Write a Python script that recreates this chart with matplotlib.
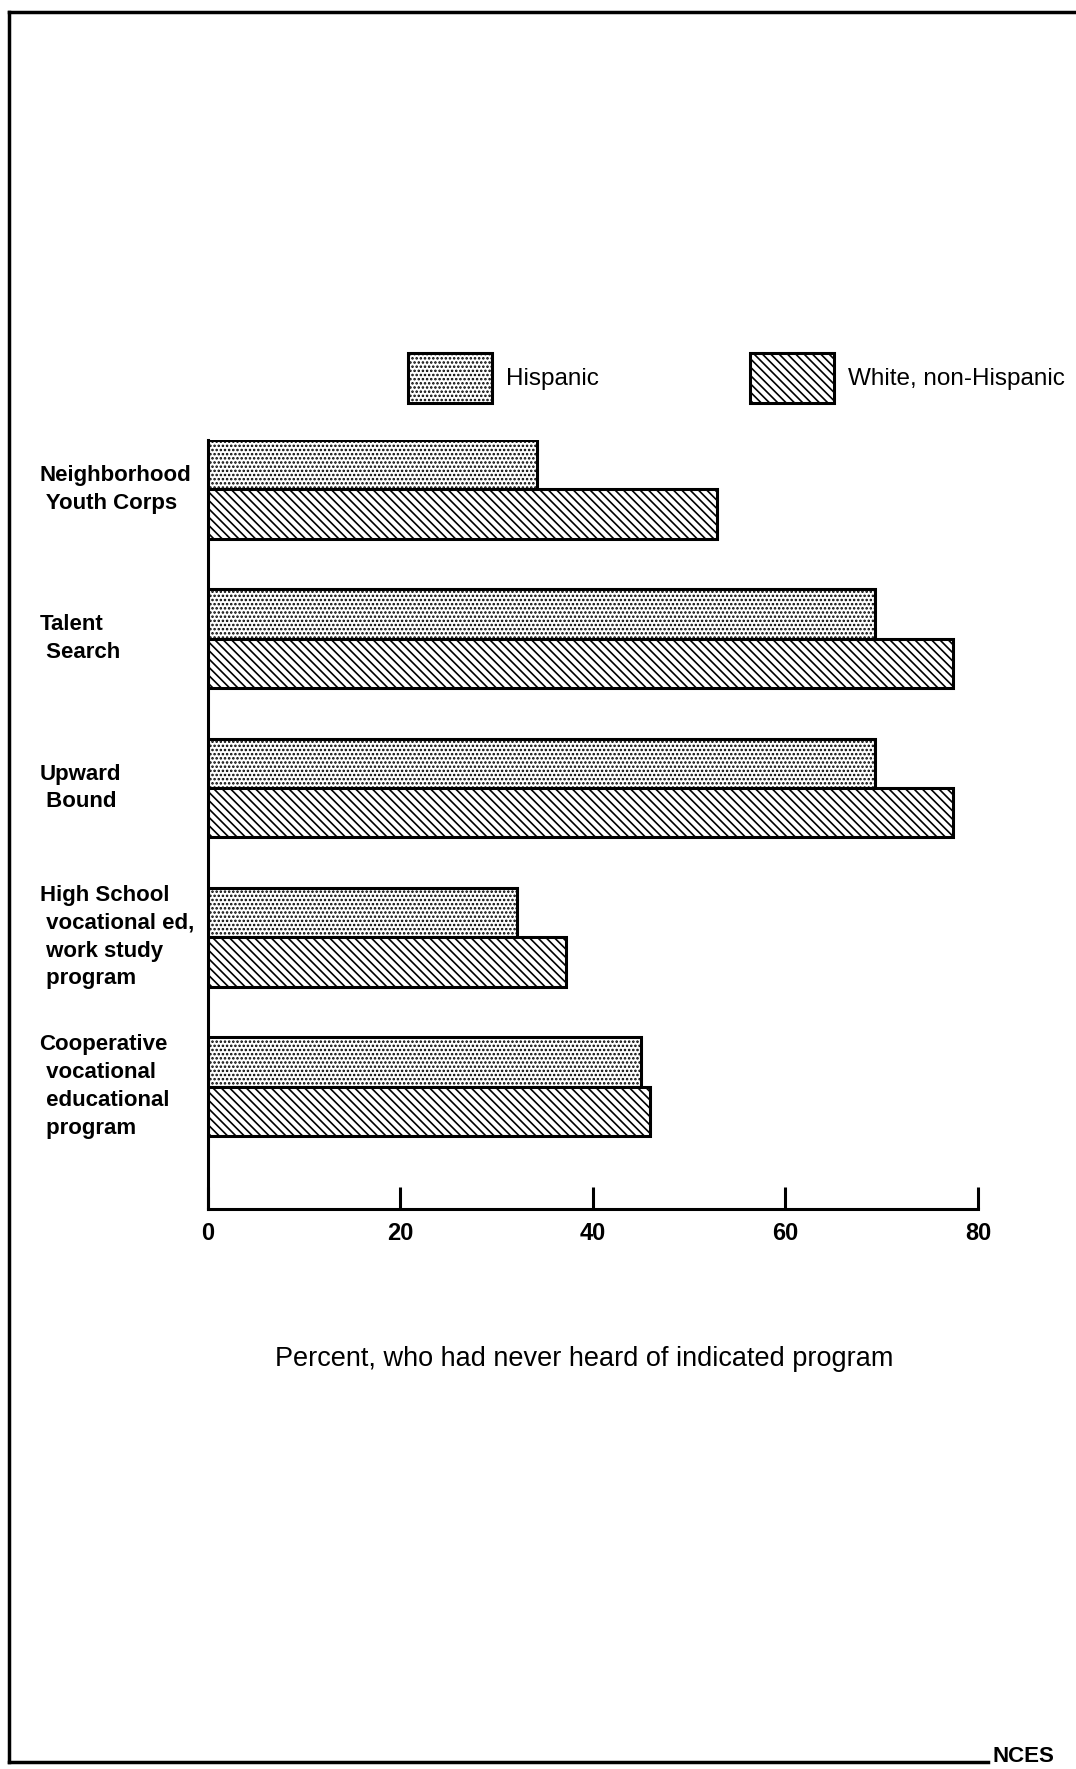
import matplotlib
matplotlib.use("Agg")
import matplotlib.pyplot as plt
import numpy as np
from matplotlib.lines import Line2D
from matplotlib.transforms import blended_transform_factory

categories = [
    "Neighborhood\n Youth Corps",
    "Talent\n Search",
    "Upward\n Bound",
    "High School\n vocational ed,\n work study\n program",
    "Cooperative\n vocational\n educational\n program",
]
hispanic = [34.2, 69.3, 69.3, 32.1, 45.0]
white = [52.9, 77.4, 77.4, 37.2, 45.9]
series_labels = ["Hispanic", "White, non-Hispanic"]
xticks = [0, 20, 40, 60, 80]
xlabel = "Percent, who had never heard of indicated program"

plt.rcParams['font.family'] = ['Liberation Sans', 'DejaVu Sans']
plt.rcParams['hatch.linewidth'] = 1.2

W, H = 1076, 1769
fig = plt.figure(figsize=(W / 100, H / 100), dpi=100)
ax = fig.add_axes([207.5 / W, 1 - 1209 / H, (978 - 207.5) / W, (1209 - 440) / H])

y = np.arange(len(categories))
h = 0.33
lw = 2.2
b1 = ax.barh(y - h / 2, hispanic, height=h, color='white', edgecolor='black',
             linewidth=lw, hatch='....', label=series_labels[0])
b2 = ax.barh(y + h / 2, white, height=h, color='white', edgecolor='black',
             linewidth=lw, hatch='\\\\\\\\', label=series_labels[1])

ax.set_xlim(0, 80)
ax.set_ylim(4.82, -0.33)
for s in ['top', 'right']:
    ax.spines[s].set_visible(False)
ax.spines['left'].set_linewidth(lw)
ax.spines['bottom'].set_linewidth(lw)
ax.set_yticks([])
ax.set_xticks(xticks)
ax.set_xticklabels([str(t) for t in xticks], fontsize=17, fontweight='bold')
ax.tick_params(axis='x', direction='in', length=16, width=2.2, pad=9)

trans = blended_transform_factory(fig.transFigure, ax.transData)
for yi, lab in zip(y, categories):
    ax.text(39.5 / W, yi, lab, transform=trans, ha='left', va='center',
            fontsize=16, fontweight='bold', linespacing=1.42)

fig.text(584 / W, 1 - 1359 / H, xlabel, ha='center', va='center', fontsize=19.5)

fig.legend(handles=[b1, b2], labels=series_labels, loc='center left',
           bbox_to_anchor=(408 / W, 1 - 378 / H), ncol=2, frameon=False,
           fontsize=17.5, handlelength=3.46, handleheight=2.8, handletextpad=0.58,
           columnspacing=6.2, borderpad=0, borderaxespad=0)

# page border
fig.add_artist(Line2D([9 / W, 9 / W], [1 - 12 / H, 1 - 1762 / H], color='black', lw=2.5,
                      transform=fig.transFigure))
fig.add_artist(Line2D([9 / W, 1.0], [1 - 12 / H, 1 - 12 / H], color='black', lw=2.5,
                      transform=fig.transFigure))
fig.add_artist(Line2D([9 / W, 988 / W], [1 - 1762 / H, 1 - 1762 / H], color='black', lw=2.5,
                      transform=fig.transFigure))
fig.text(993 / W, 1 - 1767 / H, "NCES", ha='left', va='bottom', fontsize=16,
         fontweight='bold')

fig.savefig("out.png", dpi=100)
